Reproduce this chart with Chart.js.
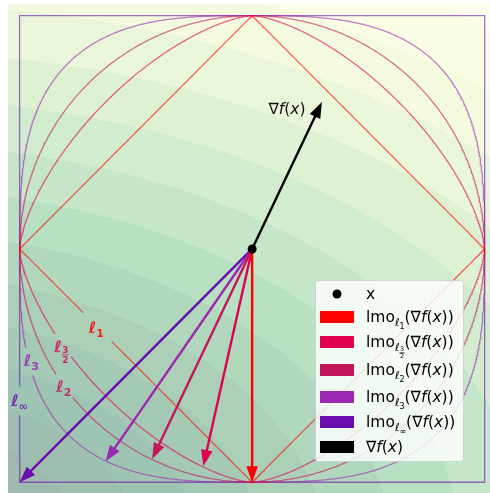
<!DOCTYPE html>
<html>
<head>
<meta charset="utf-8">
<script src="https://cdn.jsdelivr.net/npm/chart.js@4.4.1/dist/chart.umd.min.js"></script>
<style>
html, body { margin: 0; padding: 0; background: #fff; overflow: hidden; }
canvas { display: block; }
</style>
</head>
<body>
<canvas id="lmo-chart" width="490" height="493"></canvas>
<script>
// norms shown, lmo end points
const normSubs = ["1", "3/2", "2", "3", "∞"];
const normPowers = [1, 1.5, 2, 3, Infinity];
const normColors = ["#ff0000", "#e00050", "#c2185b", "#9c27b0", "#6a0dad"];
const lmoX = [0, -0.21, -0.43, -0.63, -1];
const lmoY = [-1, -0.93, -0.9, -0.91, -1];
const labelX = [-0.67, -0.82, -0.81, -0.95, -1.0];
const labelY = [-0.34, -0.42, -0.59, -0.48, -0.65];
const pointX = [0];
const pointY = [0];
const gradX = [0.3];
const gradY = [0.63];
const gradLabel = [0.15, 0.6];
// background field: elliptic distance from a point off the lower-left corner
const fieldCenter = [-1.59, -1.29];
const fieldStretch = [1, 2.58];
const fieldStep = 0.18;

const FONT = '"DejaVu Sans", sans-serif';

const ylgn = [
    [255, 255, 229], [247, 252, 185], [217, 240, 163], [173, 221, 142],
    [120, 198, 121], [65, 171, 93], [35, 132, 67], [0, 104, 55], [0, 69, 41],
];
function ylgnColor(t) {
    const v = Math.min(Math.max(t, 0), 1) * (ylgn.length - 1);
    const i = Math.min(Math.floor(v), ylgn.length - 2);
    const f = v - i;
    return ylgn[i].map((c, k) => c + (ylgn[i + 1][k] - c) * f);
}

function fieldValue(x, y) {
    const dx = x - fieldCenter[0], dy = y - fieldCenter[1];
    const q = fieldStretch[0] * dx * dx + fieldStretch[1] * dy * dy;
    return Math.pow(q, 0.375);
}

function ballPoints(p) {
    const pts = [];
    for (let i = 0; i <= 720; i++) {
        const t = (i / 720) * 2 * Math.PI;
        const c = Math.cos(t), s = Math.sin(t);
        let x, y;
        if (p === Infinity) {
            const m = Math.max(Math.abs(c), Math.abs(s));
            x = c / m;
            y = s / m;
        } else {
            x = Math.sign(c) * Math.pow(Math.abs(c), 2 / p);
            y = Math.sign(s) * Math.pow(Math.abs(s), 2 / p);
        }
        pts.push({ x: x, y: y });
    }
    return pts;
}

function withAlpha(hex, a) {
    const n = parseInt(hex.slice(1), 16);
    return "rgba(" + (n >> 16) + "," + ((n >> 8) & 255) + "," + (n & 255) + "," + a + ")";
}

const gapRadius = [0.085, 0.06, 0.06, 0.065, 0.06];

const datasets = [
    {
        label: "x",
        data: pointX.map((v, i) => ({ x: v, y: pointY[i] })),
        pointRadius: 4.5,
        pointBackgroundColor: "#000",
        pointBorderWidth: 0,
    },
];
normPowers.forEach((p, i) => {
    const pts = ballPoints(p);
    datasets.push({
        label: "ball " + normSubs[i],
        data: pts,
        showLine: true,
        pointRadius: 0,
        borderWidth: 1.3,
        borderColor: withAlpha(normColors[i], 0.6),
        fill: false,
        segment: {
            borderColor: function (ctx) {
                const a = pts[ctx.p0DataIndex], b = pts[ctx.p1DataIndex];
                const mx = (a.x + b.x) / 2 - labelX[i];
                const my = (a.y + b.y) / 2 - labelY[i];
                return Math.hypot(mx, my) < gapRadius[i] ? "rgba(0,0,0,0)" : undefined;
            },
        },
    });
});

// filled contour bands of the field
const fieldPlugin = {
    id: "field",
    beforeDatasetsDraw(chart) {
        const { ctx, chartArea: a, scales } = chart;
        const w = Math.round(a.right - a.left), h = Math.round(a.bottom - a.top);
        const bands = new Int32Array(w * h);
        let bmin = Infinity, bmax = -Infinity;
        for (let py = 0; py < h; py++) {
            const vy = scales.y.getValueForPixel(a.top + py + 0.5);
            for (let px = 0; px < w; px++) {
                const vx = scales.x.getValueForPixel(a.left + px + 0.5);
                const b = Math.floor(fieldValue(vx, vy) / fieldStep);
                bands[py * w + px] = b;
                if (b < bmin) bmin = b;
                if (b > bmax) bmax = b;
            }
        }
        const img = ctx.createImageData(w, h);
        const alpha = 0.38;
        for (let k = 0; k < w * h; k++) {
            const t = Math.pow((bands[k] - bmin + 0.5) / (bmax - bmin + 1), 1.25);
            const c = ylgnColor(1 - t);
            img.data[k * 4] = 255 - alpha * (255 - c[0]);
            img.data[k * 4 + 1] = 255 - alpha * (255 - c[1]);
            img.data[k * 4 + 2] = 255 - alpha * (255 - c[2]);
            img.data[k * 4 + 3] = 255;
        }
        ctx.putImageData(img, Math.round(a.left), Math.round(a.top));
    },
};

function drawArrow(ctx, x0, y0, x1, y1, color) {
    const dx = x1 - x0, dy = y1 - y0, len = Math.hypot(dx, dy);
    const ux = dx / len, uy = dy / len, nx = -uy, ny = ux;
    const hl = 16, hw = 5.8, sw = 1.2;
    const bx = x1 - ux * hl, by = y1 - uy * hl;
    ctx.fillStyle = color;
    ctx.beginPath();
    ctx.moveTo(x0 + nx * sw, y0 + ny * sw);
    ctx.lineTo(bx + nx * sw, by + ny * sw);
    ctx.lineTo(bx + nx * hw, by + ny * hw);
    ctx.lineTo(x1, y1);
    ctx.lineTo(bx - nx * hw, by - ny * hw);
    ctx.lineTo(bx - nx * sw, by - ny * sw);
    ctx.lineTo(x0 - nx * sw, y0 - ny * sw);
    ctx.closePath();
    ctx.fill();
}

// runs: [text, size, style, dy]
function drawRuns(ctx, runs, x, y, measureOnly) {
    let cx = x;
    runs.forEach((r) => {
        ctx.font = (r[2] || "") + " " + r[1] + "px " + FONT;
        if (r[0] === "frac") {
            const [num, den] = r[4];
            const wn = ctx.measureText(num).width, wd = ctx.measureText(den).width;
            const fw = Math.max(wn, wd) + 1;
            if (!measureOnly) {
                ctx.fillText(num, cx + (fw - wn) / 2, y + r[3]);
                ctx.fillText(den, cx + (fw - wd) / 2, y + r[3] + r[1] + 1);
                ctx.fillRect(cx, y + r[3] + 1.5, fw, 0.8);
            }
            cx += fw;
            return;
        }
        if (!measureOnly) ctx.fillText(r[0], cx, y + r[3]);
        cx += ctx.measureText(r[0]).width;
    });
    return cx - x;
}

function subRuns(sub, size, style, dy) {
    if (sub === "3/2") return [["frac", size * 0.8, style, dy - 3, ["3", "2"]]];
    return [[sub, size, style, dy]];
}

const gradRuns = [["∇", 15.5, "", 0], ["f", 15.5, "italic", 0], ["(", 15.5, "", 0], ["x", 15.5, "italic", 0], [")", 15.5, "", 0]];

const annotationPlugin = {
    id: "annotations",
    afterDatasetDraw(chart, args) {
        if (args.index !== 1) return;
        const { ctx, scales } = chart;
        const x0 = scales.x.getPixelForValue(pointX[0]);
        const y0 = scales.y.getPixelForValue(pointY[0]);
        ctx.save();
        for (let i = normPowers.length - 1; i >= 0; i--) {
            drawArrow(ctx, x0, y0, scales.x.getPixelForValue(lmoX[i]), scales.y.getPixelForValue(lmoY[i]), normColors[i]);
        }
        drawArrow(ctx, x0, y0, scales.x.getPixelForValue(gradX[0]), scales.y.getPixelForValue(gradY[0]), "#000");

        // inline norm labels
        ctx.textBaseline = "alphabetic";
        normSubs.forEach((sub, i) => {
            const runs = [["ℓ", 16, "bold", 0]].concat(subRuns(sub, 11, "bold", 4));
            const w = drawRuns(ctx, runs, 0, 0, true);
            const px = scales.x.getPixelForValue(labelX[i]);
            const py = scales.y.getPixelForValue(labelY[i]);
            ctx.fillStyle = withAlpha(normColors[i], 0.85);
            drawRuns(ctx, runs, px - w / 2, py + 5);
        });

        // gradient label
        ctx.fillStyle = "#111";
        const gw = drawRuns(ctx, gradRuns, 0, 0, true);
        drawRuns(ctx, gradRuns, scales.x.getPixelForValue(gradLabel[0]) - gw / 2, scales.y.getPixelForValue(gradLabel[1]) + 5);
        ctx.restore();
    },
    afterDraw(chart) {
        const ctx = chart.ctx;
        ctx.save();
        ctx.fillStyle = "rgba(255,255,255,0.8)";
        ctx.strokeStyle = "rgba(204,204,204,0.8)";
        ctx.lineWidth = 1;
        ctx.beginPath();
        ctx.roundRect(315.5, 280.5, 148, 181, 3);
        ctx.fill();
        ctx.stroke();

        const rows = [294, 317, 342, 370, 397, 422, 447];
        const tx = 366;
        ctx.textBaseline = "alphabetic";
        // x marker
        ctx.fillStyle = "#000";
        ctx.beginPath();
        ctx.arc(337, rows[0], 4.5, 0, Math.PI * 2);
        ctx.fill();
        drawRuns(ctx, [["x", 15.5, "", 0]], tx, rows[0] + 5);
        normSubs.forEach((sub, i) => {
            const y = rows[i + 1];
            ctx.fillStyle = normColors[i];
            ctx.fillRect(320, y - 6, 34, 12);
            ctx.fillStyle = "#000";
            const runs = [["lmo", 15.5, "", 0], ["ℓ", 11, "italic", 4]]
                .concat(subRuns(sub, 8, "", 7))
                .concat([["(", 15.5, "", 0]], gradRuns, [[")", 15.5, "", 0]]);
            drawRuns(ctx, runs, tx, y + 5);
        });
        const yl = rows[6];
        ctx.fillStyle = "#000";
        ctx.fillRect(320, yl - 6, 34, 12);
        drawRuns(ctx, gradRuns, tx, yl + 5);
        ctx.restore();
    },
};

new Chart(document.getElementById("lmo-chart"), {
    type: "scatter",
    data: { datasets: datasets },
    plugins: [fieldPlugin, annotationPlugin],
    options: {
        responsive: false,
        animation: false,
        events: [],
        layout: { autoPadding: false, padding: { left: 8, top: 4, right: 0, bottom: 0 } },
        scales: {
            x: { type: "linear", min: -1.05, max: 1.023, display: false },
            y: { type: "linear", min: -1.046, max: 1.05, display: false },
        },
        plugins: {
            legend: { display: false },
            tooltip: { enabled: false },
        },
    },
});
</script>
</body>
</html>
